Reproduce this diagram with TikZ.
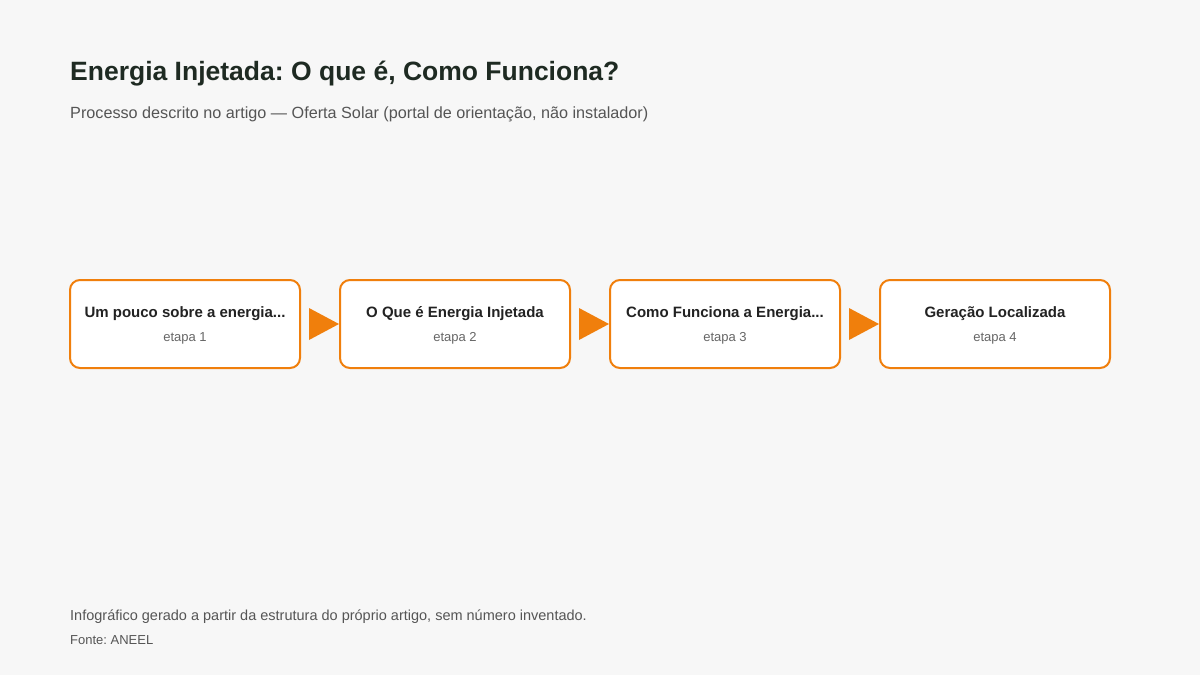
\documentclass[tikz,border=0pt]{standalone}
\usepackage{fontspec}
\setmainfont{Liberation Sans}
\frenchspacing
\definecolor{bg}{HTML}{F7F7F7}
\definecolor{orng}{HTML}{F07F0C}
\definecolor{ttl}{HTML}{1E2A22}
\definecolor{sub}{HTML}{555555}
\definecolor{boxtxt}{HTML}{222222}
\definecolor{stp}{HTML}{666666}
\begin{document}
\begin{tikzpicture}[x=1pt,y=-1pt,
  stepbox/.style={draw=orng,line width=2pt,fill=white,rounded corners=10pt,minimum width=230pt,minimum height=88pt,inner sep=0pt},
  boxtitle/.style={font=\fontsize{15}{18}\selectfont\bfseries,text=boxtxt,anchor=center},
  boxsub/.style={font=\fontsize{13}{15}\selectfont,text=stp,anchor=center},
  tri/.style={fill=orng,draw=none},
  txt/.style={anchor=base west,inner sep=0pt}]
\fill[bg] (0,0) rectangle (1200,675);
\useasboundingbox (0,0) rectangle (1200,675);
\node[txt,font=\fontsize{26.5}{32}\selectfont\bfseries,text=ttl] (title) at (70,80) {Energia Injetada: O que é, Como Funciona?};
\node[txt,font=\fontsize{16.2}{19}\selectfont,text=sub] (subtitle) at (70,118) {Processo descrito no artigo — Oferta Solar (portal de orientação, não instalador)};
\foreach \i/\x/\t in {1/185/{Um pouco sobre a energia...},2/455/{O Que é Energia Injetada},3/725/{Como Funciona a Energia...},4/995/{Geração Localizada}}{
  \node[stepbox] (b\i) at (\x,324) {};
  \node[boxtitle] (t\i) at (\x,313.5) {\t};
  \node[boxsub] (s\i) at (\x,338) {etapa \i};
}
\foreach \a/\b in {b1/b2,b2/b3,b3/b4}{
  \fill[tri] ([xshift=8pt,yshift=16pt]\a.east) -- (\b.west) -- ([xshift=8pt,yshift=-16pt]\a.east) -- cycle;
}
\node[txt,font=\fontsize{14.5}{17}\selectfont,text=sub] (foot) at (70,620) {Infográfico gerado a partir da estrutura do próprio artigo, sem número inventado.};
\node[txt,font=\fontsize{13}{15}\selectfont,text=sub] (src) at (70,644) {Fonte: ANEEL};
\end{tikzpicture}
\end{document}
